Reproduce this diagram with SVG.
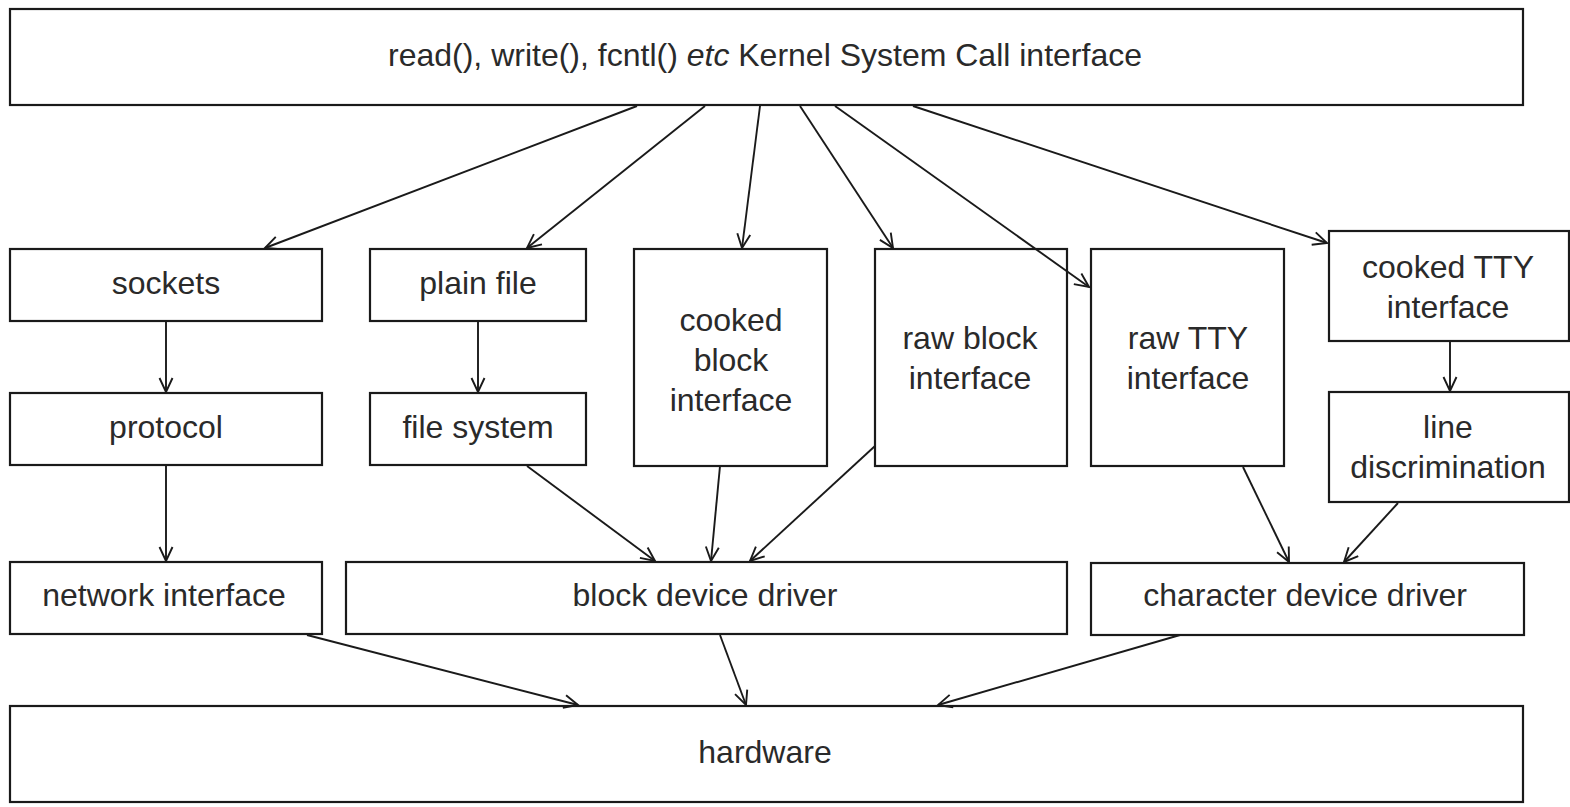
<svg xmlns="http://www.w3.org/2000/svg" width="1570" height="807" viewBox="0 0 1570 807">
<style>
.box{fill:#fff;stroke:#1a1a1a;stroke-width:2.2}
.t{font-family:"Liberation Sans",Arial,sans-serif;font-size:32px;fill:#2a2a2a;text-anchor:middle}
.c{fill:none;stroke:#1a1a1a;stroke-width:1.9;marker-end:url(#ah)}
</style>
<defs>
<marker id="ah" markerUnits="userSpaceOnUse" markerWidth="18" markerHeight="18" viewBox="0 0 18 18" refX="16" refY="9" orient="auto">
<path d="M2,2.5 L16,9 L2,15.5" fill="none" stroke="#1a1a1a" stroke-width="1.9"/>
</marker>
</defs>
<rect width="1570" height="807" fill="#fff"/>
<g id="syscall"><rect class="box" x="10" y="9" width="1513" height="96"/><text class="t" x="765" y="66">read(), write(), fcntl() <tspan font-style="italic">etc</tspan> Kernel System Call interface</text></g>
<g id="sockets"><rect class="box" x="10" y="249" width="312" height="72"/><text class="t" x="166" y="294">sockets</text></g>
<g id="plainfile"><rect class="box" x="370" y="249" width="216" height="72"/><text class="t" x="478" y="294">plain file</text></g>
<g id="cookedblock"><rect class="box" x="634" y="249" width="193" height="217"/><text class="t" x="731" y="331">cooked</text><text class="t" x="731" y="371">block</text><text class="t" x="731" y="411">interface</text></g>
<g id="rawblock"><rect class="box" x="875" y="249" width="192" height="217"/><text class="t" x="970" y="349">raw block</text><text class="t" x="970" y="389">interface</text></g>
<g id="rawtty"><rect class="box" x="1091" y="249" width="193" height="217"/><text class="t" x="1188" y="349">raw TTY</text><text class="t" x="1188" y="389">interface</text></g>
<g id="cookedtty"><rect class="box" x="1329" y="231" width="240" height="110"/><text class="t" x="1448" y="278">cooked TTY</text><text class="t" x="1448" y="318">interface</text></g>
<g id="protocol"><rect class="box" x="10" y="393" width="312" height="72"/><text class="t" x="166" y="438">protocol</text></g>
<g id="filesystem"><rect class="box" x="370" y="393" width="216" height="72"/><text class="t" x="478" y="438">file system</text></g>
<g id="linedisc"><rect class="box" x="1329" y="392" width="240" height="110"/><text class="t" x="1448" y="438">line</text><text class="t" x="1448" y="478">discrimination</text></g>
<g id="netif"><rect class="box" x="10" y="562" width="312" height="72"/><text class="t" x="164" y="606">network interface</text></g>
<g id="blockdrv"><rect class="box" x="346" y="562" width="721" height="72"/><text class="t" x="705" y="606">block device driver</text></g>
<g id="chardrv"><rect class="box" x="1091" y="563" width="433" height="72"/><text class="t" x="1305" y="606">character device driver</text></g>
<g id="hardware"><rect class="box" x="10" y="706" width="1513" height="96"/><text class="t" x="765" y="763">hardware</text></g>
<g id="connectors">
<line class="c" x1="637" y1="106" x2="265" y2="248"/>
<line class="c" x1="705" y1="106" x2="527" y2="248"/>
<line class="c" x1="760" y1="106" x2="742" y2="248"/>
<line class="c" x1="800" y1="106" x2="893" y2="248"/>
<line class="c" x1="835" y1="106" x2="1089" y2="287"/>
<line class="c" x1="913" y1="106" x2="1327" y2="243"/>
<line class="c" x1="166" y1="322" x2="166" y2="392"/>
<line class="c" x1="478" y1="322" x2="478" y2="392"/>
<line class="c" x1="166" y1="466" x2="166" y2="561"/>
<line class="c" x1="1450" y1="342" x2="1450" y2="391"/>
<line class="c" x1="527" y1="466" x2="655" y2="561"/>
<line class="c" x1="720" y1="466" x2="711" y2="561"/>
<line class="c" x1="875" y1="446" x2="750" y2="561"/>
<line class="c" x1="1243" y1="467" x2="1289" y2="562"/>
<line class="c" x1="1398" y1="503" x2="1344" y2="562"/>
<line class="c" x1="307" y1="635" x2="578" y2="705"/>
<line class="c" x1="720" y1="635" x2="746" y2="705"/>
<line class="c" x1="1180" y1="635" x2="938" y2="705"/>
</g>
</svg>
